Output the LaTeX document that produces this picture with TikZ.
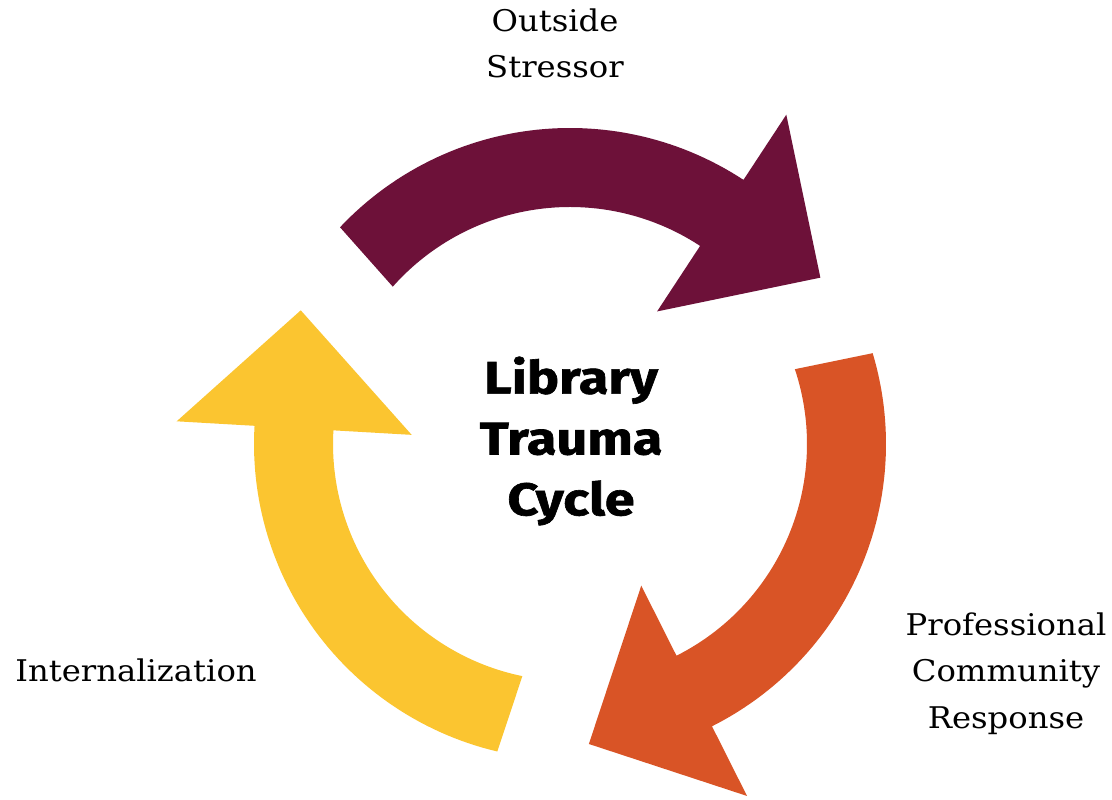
\documentclass[tikz,border=0pt]{standalone}
\usepackage{fontspec}
\setmainfont[FakeStretch=1.08]{DejaVu Serif}
\newfontfamily\titlefont[BoldFeatures={FakeBold=1.4,FakeStretch=1.18}]{Fira Sans}
\definecolor{cyclemaroon}{RGB}{109,17,57}
\definecolor{cycleorange}{RGB}{217,84,38}
\definecolor{cycleyellow}{RGB}{251,197,48}

\begin{document}
\begin{tikzpicture}[x=0.02cm,y=0.02cm,
  label text/.style={font=\fontsize{17}{26.5}\selectfont, align=center, inner sep=0pt, text=black},
  title text/.style={font=\titlefont\bfseries\fontsize{26}{34.6}\selectfont, align=center, inner sep=0pt},
  % one curved arrow: tail at 137.5 deg, head base at 56.7 deg
  cycle arrow/.pic={
    \fill plot[domain=136.7:56.7, samples=60] (\x:316)
      -- (56.7:394) -- (33.6:300.6) -- (56.7:158.6) -- (56.7:237)
      -- plot[domain=56.7:138.4, samples=60] (\x:237) -- cycle;
  }]
\useasboundingbox (0,0) rectangle (1112,800);
\fill[white] (0,0) rectangle (1112,800);

\coordinate (hub) at (570,356);

% three arrows, each turned 120 degrees from the last
\pic[cyclemaroon] at (hub) {cycle arrow};
\pic[cycleorange, rotate=-120] at (hub) {cycle arrow};
\pic[cycleyellow, rotate=120] at (hub) {cycle arrow};

\node[title text] (title) at (571,359) {Library\\Trauma\\Cycle};

\node[label text, anchor=north] (stressor) at (555,792) {Outside\\Stressor};
\node[label text, anchor=base west] (internal) at (15,118) {Internalization};
\node[label text, anchor=north] (response) at (1006,188) {Professional\\Community\\Response};
\end{tikzpicture}
\end{document}
